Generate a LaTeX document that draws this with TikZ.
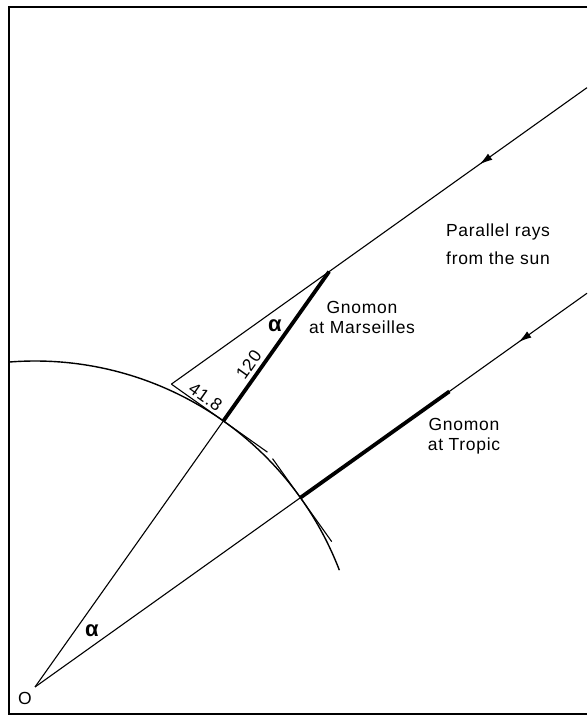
\documentclass[tikz,border=0pt]{standalone}
\usepackage{fontspec}
\setmainfont{Liberation Sans}[LetterSpace=4]
\usepackage{tikz}
\usetikzlibrary{arrows.meta}
\usetikzlibrary{calc}
\usetikzlibrary{decorations.markings}

\begin{document}
\begin{tikzpicture}[x=1pt, y=1pt,
		thinline/.style={line width=1.1pt},
		gnomon/.style={line width=3.8pt},
		frameline/.style={line width=1.6pt},
		lbl/.style={font=\fontsize{17.5}{20}\selectfont, inner sep=0pt},
		ang/.style={font=\fontsize{22}{22}\selectfont\bfseries, inner sep=0pt},
		sunarrow/.style={postaction={decorate}, decoration={markings,
				mark=at position #1 with {\arrow{Latex[length=13pt,width=7.5pt]}}}}
		]
		\useasboundingbox (0,0) rectangle (587,715);
		\draw[frameline] (587,708) -- (9,708) -- (9,1) -- (587,1);

		\pgfmathsetmacro{\rr}{326}
		\pgfmathsetmacro{\at}{35.5}
		\pgfmathsetmacro{\am}{54.7}
		\pgfmathsetmacro{\gl}{183}
		\pgfmathsetmacro{\sl}{\gl*tan(\am-\at)}
		\pgfmathsetmacro{\la}{(587-35-(\rr+\gl)*cos(\am))/cos(\at)}
		\pgfmathsetmacro{\lb}{(587-35)/cos(\at)}

		\coordinate (O) at (35,28);
		\coordinate (M) at ($(O)+(\am:\rr)$);
		\coordinate (T) at ($(O)+(\at:\rr)$);
		\coordinate (G) at ($(M)+(\am:\gl)$);
		\coordinate (H) at ($(T)+(\at:\gl)$);
		\coordinate (S) at ($(M)+(\am+90:\sl)$);
		\coordinate (E) at ($(M)+(\am-90:54)$);
		\coordinate (Ta) at ($(T)+(\at+90:48)$);
		\coordinate (Tb) at ($(T)+(\at-90:54)$);
		\coordinate (Ra) at ($(G)+(\at:\la)$);
		\coordinate (Rb) at ($(O)+(\at:\lb)$);

		\draw[line width=1.4pt] (O) ++(94.57:\rr) arc[start angle=94.57, end angle=21, radius=\rr];
		\draw[thinline] (O) -- (M);
		\draw[thinline, sunarrow=132pt] (Ra) -- (G) -- (S);
		\draw[thinline, sunarrow=84pt] (Rb) -- (O);
		\draw[thinline] (S) -- node[lbl, pos=0.3, sloped, above=2.5pt] (l418) {41.8} (E);
		\draw[thinline] (Ta) -- (Tb);
		\draw[gnomon] (M) -- node[lbl, pos=0.33, sloped, above=3.5pt] (l120) {120} (G);
		\draw[gnomon] (T) -- (H);

		\node[lbl, anchor=base, align=center] (rays) at (498,450) {Parallel rays\\[8pt]from the sun};
		\node[lbl, anchor=base, align=center] (gm) at (362,381) {Gnomon\\at Marseilles};
		\node[lbl, anchor=base, align=center] (gt) at (464,264) {Gnomon\\at Tropic};
		\node[lbl, anchor=base] (o) at (25,10) {O};
		\node[ang] (a1) at (92,84) {α};
		\node[ang] (a2) at (275,389) {α};
\end{tikzpicture}
\end{document}
